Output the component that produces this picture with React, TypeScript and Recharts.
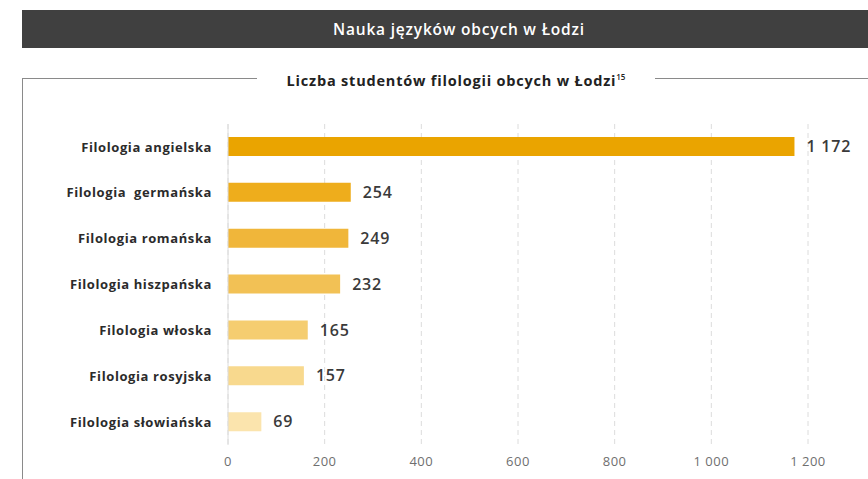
import { BarChart, Bar, XAxis, YAxis, CartesianGrid, Cell, LabelList, ReferenceLine } from 'recharts';

const categories = [
  'Filologia angielska',
  'Filologia  germańska',
  'Filologia romańska',
  'Filologia hiszpańska',
  'Filologia włoska',
  'Filologia rosyjska',
  'Filologia słowiańska',
];
const students = [1172, 254, 249, 232, 165, 157, 69];
const barColors = ['#EAA400', '#EEAD1C', '#F0B63A', '#F2C155', '#F5CD70', '#F8D98E', '#FBE4AD'];
const xTicks = [0, 200, 400, 600, 800, 1000, 1200];

const data = categories.map((name, i) => ({ name, value: students[i] }));

const fmt = (v: number) => String(v).replace(/\B(?=(\d{3})+(?!\d))/g, ' ');
// keep the double space of the original label (Recharts collapses normal spaces)
const keepSpaces = (s: string) => String(s).replace(/ {2}/g, '\u00a0 ');

const FONT = '"Open Sans", Lato, sans-serif';

const App = () => {
  return (
    <div style={{ position: 'absolute', left: 0, top: 0, width: 868, height: 479, background: '#fff', fontFamily: FONT, overflow: 'hidden' }}>
      <div
        style={{
          position: 'absolute', left: 22, top: 10, width: 846, height: 38, background: '#404040',
          color: '#fff', fontSize: 15.5, fontWeight: 600, lineHeight: '38px', textAlign: 'center', letterSpacing: 0.8,
        }}
      >
        <span style={{ position: 'relative', left: 14 }}>Nauka języków obcych w Łodzi</span>
      </div>
      <div style={{ position: 'absolute', left: 22, top: 78, width: 235, borderTop: '1px solid #8a8a8a' }} />
      <div style={{ position: 'absolute', left: 655, top: 78, width: 213, borderTop: '1px solid #8a8a8a' }} />
      <div style={{ position: 'absolute', left: 22, top: 78, height: 401, borderLeft: '1px solid #8a8a8a' }} />
      <div
        style={{
          position: 'absolute', left: 257, width: 398, top: 67, textAlign: 'center',
          fontSize: 14.5, fontWeight: 700, color: '#222', lineHeight: '20px', whiteSpace: 'nowrap', letterSpacing: 0.8,
        }}
      >
        Liczba studentów filologii obcych w Łodzi<sup style={{ fontSize: 8, fontWeight: 600, letterSpacing: 0 }}>15</sup>
      </div>
      <div style={{ position: 'absolute', left: 0, top: 0 }}>
        <BarChart
          width={868}
          height={479}
          data={data}
          layout="vertical"
          margin={{ top: 124, right: 60, bottom: 4, left: 0 }}
          barCategoryGap={0}
        >
          <CartesianGrid horizontal={false} stroke="#dcdcdc" strokeDasharray="5 4" />
          <XAxis
            type="number"
            domain={[0, 1200]}
            ticks={xTicks}
            tickFormatter={fmt}
            axisLine={false}
            tickLine={false}
            tickMargin={6}
            height={30}
            tick={{ fill: '#6f6f6f', fontSize: 13, fontFamily: FONT, fontWeight: 400, letterSpacing: 0.5 }}
          />
          <YAxis
            type="category"
            dataKey="name"
            width={228}
            axisLine={false}
            tickLine={false}
            tickMargin={10}
            tickFormatter={keepSpaces}
            tick={{ fill: '#2b2b2b', fontSize: 13, fontWeight: 700, fontFamily: FONT, letterSpacing: 0.6 }}
          />
          <ReferenceLine x={0} stroke="#dcdcdc" />
          <Bar dataKey="value" barSize={19} isAnimationActive={false}>
            {data.map((d, i) => (
              <Cell key={d.name} fill={barColors[i]} />
            ))}
            <LabelList
              dataKey="value"
              position="right"
              offset={12}
              formatter={(v: any) => fmt(Number(v))}
              style={{ fill: '#3a3a3a', fontSize: 16, fontWeight: 600, fontFamily: FONT, letterSpacing: 0.8 }}
            />
          </Bar>
        </BarChart>
      </div>
    </div>
  );
};

export default App;
